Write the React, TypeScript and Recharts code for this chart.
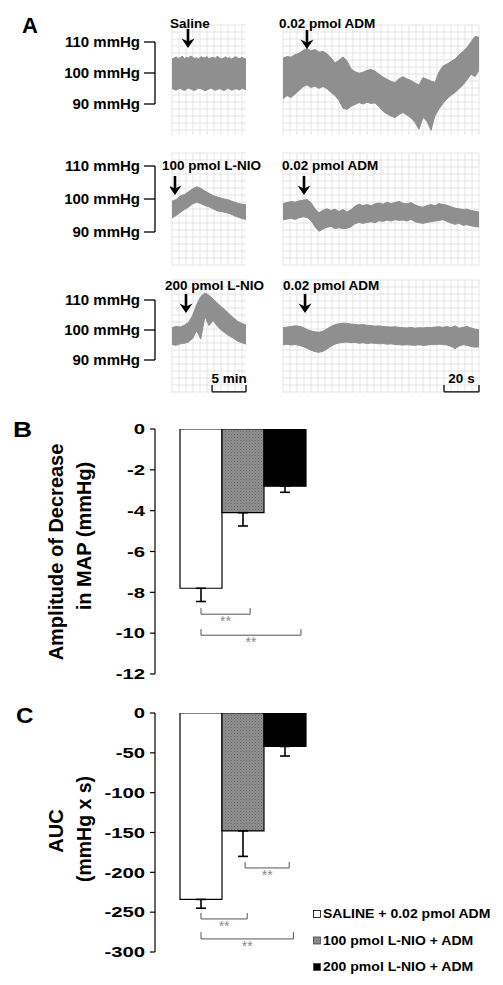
import React from 'react';
import {
  ComposedChart,
  LineChart,
  BarChart,
  Area,
  Bar,
  Line,
  XAxis,
  YAxis,
  CartesianGrid,
  ReferenceLine,
  ReferenceDot,
  ErrorBar,
  Legend,
} from 'recharts';

const FONT = '"Liberation Sans", Arial, Helvetica, sans-serif';

// ================= Panel A: pressure traces (mmHg) =================
const LEFT_DURATION_MIN = 10.9;
const RIGHT_DURATION_S = 112;
const MMHG_TICKS = [90, 100, 110];

const SALINE_HI = [104.6, 104.9, 105.3, 104.8, 105.0, 105.5, 104.7, 105.1, 104.9, 105.6, 105.2, 104.8, 105.0, 104.6, 105.3, 105.1, 104.9, 105.4, 104.7, 105.0, 105.2, 104.8, 105.5, 105.0, 104.7, 104.9, 105.3, 104.8, 105.1, 104.6, 105.0, 105.4, 104.9, 104.7, 105.2, 104.8, 104.6];
const SALINE_LO = [95.2, 95.0, 94.7, 95.1, 95.3, 94.9, 94.6, 95.0, 95.4, 95.1, 94.8, 94.6, 95.0, 95.3, 95.2, 94.9, 94.5, 94.8, 95.1, 95.4, 95.0, 94.7, 94.9, 95.2, 95.0, 94.6, 94.8, 95.3, 95.1, 94.7, 94.9, 95.2, 95.0, 94.8, 95.3, 95.1, 94.9];

const ADM1_HI = [104.9, 105.4, 105.2, 106.0, 106.4, 107.3, 107.9, 107.2, 107.6, 106.8, 107.0, 106.3, 105.0, 103.4, 104.2, 105.3, 104.0, 101.5, 100.6, 100.1, 100.4, 101.0, 101.3, 100.8, 99.8, 98.9, 98.2, 97.5, 97.1, 98.4, 99.0, 98.3, 97.8, 97.0, 96.4, 98.7, 98.2, 97.6, 97.2, 100.5, 102.4, 103.0, 103.8, 104.6, 105.9, 107.0, 108.3, 110.0, 111.8, 111.5];
const ADM1_LO = [92.0, 93.0, 92.4, 93.5, 94.6, 95.8, 96.4, 95.6, 96.0, 95.3, 95.9, 95.2, 94.0, 93.0, 91.5, 89.0, 88.6, 89.6, 90.2, 90.8, 90.3, 90.9, 90.5, 90.7, 89.5, 88.0, 87.2, 86.5, 86.0, 87.0, 87.6, 86.8, 85.9, 84.5, 82.3, 86.1, 84.8, 82.0, 86.6, 88.8, 90.5, 92.0, 93.1, 94.0, 95.2, 96.4, 98.0, 99.8, 99.0, 101.0];

const LNIO100_HI = [99.3, 99.8, 100.9, 101.3, 102.2, 103.0, 103.7, 103.2, 102.4, 101.7, 101.0, 100.6, 100.2, 99.9, 99.6, 99.1, 98.7, 98.4, 98.2];
const LNIO100_LO = [94.3, 95.0, 95.9, 96.8, 97.5, 98.5, 99.0, 98.6, 98.0, 97.6, 97.0, 96.4, 96.2, 95.9, 95.6, 95.0, 94.5, 94.1, 93.8];

const ADM2_HI = [98.6, 98.9, 99.2, 99.0, 99.4, 99.6, 99.8, 98.9, 97.0, 95.8, 96.6, 97.0, 96.5, 96.9, 96.2, 96.8, 96.0, 96.7, 97.8, 98.4, 98.0, 98.3, 97.9, 98.5, 98.8, 98.4, 99.0, 98.6, 98.9, 99.3, 98.7, 98.5, 98.9, 98.2, 97.7, 97.5, 98.0, 98.3, 97.9, 98.6, 98.3, 98.1, 97.6, 97.2, 97.0, 96.8, 96.9, 96.5, 96.3, 96.0];
const ADM2_LO = [93.7, 93.9, 94.1, 93.8, 94.3, 94.6, 94.4, 93.5, 91.6, 90.2, 90.9, 91.4, 91.7, 91.0, 91.3, 91.0, 91.1, 91.6, 92.5, 92.9, 92.6, 92.9, 93.1, 92.8, 93.4, 93.2, 93.6, 93.3, 93.7, 93.5, 93.6, 93.3, 93.8, 93.1, 92.8, 92.6, 92.9, 93.1, 93.3, 93.5, 93.7, 93.2, 92.7, 92.3, 92.6, 92.0, 92.2, 91.9, 91.6, 91.5];

const LNIO200_HI = [100.8, 101.2, 101.0, 101.6, 102.5, 104.8, 108.5, 111.2, 112.4, 111.6, 110.3, 109.0, 107.8, 106.6, 105.3, 104.0, 102.9, 102.2, 101.7];
const LNIO200_LO = [95.2, 94.9, 95.4, 95.6, 96.0, 97.2, 99.8, 97.0, 104.5, 101.5, 103.2, 101.3, 100.0, 98.9, 98.0, 97.2, 96.3, 95.8, 95.3];

const ADM3_HI = [100.8, 101.0, 101.2, 101.4, 101.3, 100.9, 100.2, 99.7, 99.4, 99.3, 99.6, 100.4, 101.2, 101.8, 102.1, 102.3, 102.2, 102.0, 101.9, 101.7, 101.8, 101.6, 101.5, 101.3, 101.4, 101.2, 101.1, 101.0, 101.1, 100.9, 100.8, 100.7, 100.9, 100.6, 100.8, 100.7, 100.9, 100.8, 101.0, 101.1, 100.9, 101.2, 100.8, 101.4, 100.6, 100.9, 101.2, 100.7, 100.3, 100.1];
const ADM3_LO = [95.1, 95.3, 95.0, 95.2, 94.9, 94.5, 93.9, 93.3, 92.8, 92.6, 92.9, 93.7, 94.6, 95.3, 95.7, 95.9, 96.0, 95.8, 95.9, 95.6, 95.8, 95.5, 95.7, 95.6, 95.4, 95.5, 95.3, 95.4, 95.2, 95.1, 95.0, 95.1, 95.0, 94.9, 95.1, 94.9, 95.0, 95.2, 95.1, 95.3, 95.2, 95.0, 94.6, 93.8, 94.7, 95.1, 94.9, 94.5, 94.3, 94.4];

const LEFT_HI = [SALINE_HI, LNIO100_HI, LNIO200_HI];
const LEFT_LO = [SALINE_LO, LNIO100_LO, LNIO200_LO];
const RIGHT_HI = [ADM1_HI, ADM2_HI, ADM3_HI];
const RIGHT_LO = [ADM1_LO, ADM2_LO, ADM3_LO];

const ROW_Y_DOMAINS: [number, number][] = [[80.5, 115.4], [80.0, 113.9], [79.0, 116.7]];
const LEFT_LABELS = ['Saline', '100 pmol L-NIO', '200 pmol L-NIO'];
const RIGHT_LABELS = ['0.02 pmol ADM', '0.02 pmol ADM', '0.02 pmol ADM'];
const LEFT_ARROW_T = [2.36, 0.44, 2.06];
const LEFT_ARROW_Y = [108.1, 101.2, 105.7];
const RIGHT_ARROW_T = [13.7, 12.0, 12.6];
const RIGHT_ARROW_Y = [107.8, 101.2, 105.7];

// scale bars (drawn on the bottom row)
const LEFT_SCALE = { label: '5 min', from: 5.9, to: 10.9, y: 79.4, tick: 81.7 };
const RIGHT_SCALE = { label: '20 s', from: 92, to: 112, y: 79.4, tick: 81.7 };

// ---- layout (page pixels) ----
const ROW_GRID_TOP = [25, 153, 280];
const ROW_GRID_H = [110, 112, 113];
const ROW_BRACKET = [[42, 104], [166, 232], [300, 360]];
const LEFT_LABEL_X = [170, 162, 165];
const RIGHT_LABEL_X = [279, 282, 283];
const LABEL_BASE = [28, 170, 290];

// ================= Panels B & C: bars =================
const GROUPS = ['SALINE + 0.02 pmol ADM', '100 pmol L-NIO + ADM', '200 pmol L-NIO + ADM'];
const B_MEANS = [-7.8, -4.1, -2.8];
const B_SEMS = [0.65, 0.65, 0.3];
const C_MEANS = [-234, -148, -42];
const C_SEMS = [11, 32, 12];
const B_TICKS = [0, -2, -4, -6, -8, -10, -12];
const C_TICKS = [0, -50, -100, -150, -200, -250, -300];

// significance brackets (x in bar-position units: bar centres at 1, 2, 3)
const B_SIG_X0 = [1.0, 1.0];
const B_SIG_X1 = [2.17, 3.38];
const B_SIG_Y = [-9.07, -10.1];
const B_SIG_TICK = [-8.77, -9.8];
const C_SIG_X0 = [2.05, 1.0, 1.0];
const C_SIG_X1 = [3.1, 2.1, 3.2];
const C_SIG_Y = [-194.5, -258.5, -283.6];
const C_SIG_TICK = [-187, -251, -275];
const SIG_DOMAIN: [number, number] = [-0.0952, 4.0952];

const TRACE_COLOR = '#8f8f8f';
const GRID_COLOR = '#e2e2e2';

const gridV = (p: any) => {
  const o = p.offset;
  const out: number[] = [];
  for (let v = o.left; v <= o.left + o.width + 0.5; v += 7) out.push(v);
  return out;
};
const gridH = (p: any) => {
  const o = p.offset;
  const out: number[] = [];
  for (let v = o.top; v <= o.top + o.height + 0.5; v += 7) out.push(v);
  return out;
};

const ArrowShape = (p: any) => {
  const { cx, cy } = p;
  if (cx == null || cy == null) return null;
  return (
    <g>
      <line x1={cx} y1={cy - 19} x2={cx} y2={cy - 6} stroke="#000" strokeWidth={2.6} />
      <polygon points={`${cx - 6.5},${cy - 9.5} ${cx},${cy - 6.5} ${cx + 6.5},${cy - 9.5} ${cx},${cy}`} fill="#000" />
    </g>
  );
};

function TraceChart(props: any) {
  const { hi, lo, dur, yDomain, left, top, plotW, plotH, arrowT, arrowY, scale } = props;
  const data = hi.map((v: number, i: number) => ({ t: (i * dur) / (hi.length - 1), range: [lo[i], v] }));
  const sl = { stroke: '#000', strokeWidth: 1.3, ifOverflow: 'visible' as const, xAxisId: 0, yAxisId: 0 };
  return (
    <div style={{ position: 'absolute', left: left - 2, top: top - 1 }}>
      <ComposedChart width={plotW + 4} height={plotH + 2} data={data} margin={{ top: 1, right: 2, bottom: 1, left: 2 }}>
        <CartesianGrid stroke={GRID_COLOR} strokeWidth={0.9} verticalCoordinatesGenerator={gridV} horizontalCoordinatesGenerator={gridH} />
        <XAxis dataKey="t" type="number" domain={[0, dur]} hide allowDataOverflow />
        <YAxis type="number" domain={yDomain} hide allowDataOverflow />
        <Area
          dataKey="range"
          type="linear"
          stroke={TRACE_COLOR}
          strokeWidth={1}
          fill={TRACE_COLOR}
          fillOpacity={1}
          dot={false}
          activeDot={false}
          isAnimationActive={false}
        />
        <ReferenceDot x={arrowT} y={arrowY} r={1} ifOverflow="visible" shape={ArrowShape} />
        {scale ? (
          <ReferenceLine
            {...sl}
            segment={[{ x: scale.from, y: scale.y }, { x: scale.to, y: scale.y }]}
            label={{ value: scale.label, position: 'top', offset: 9, fill: '#000', fontSize: 13.5, fontWeight: 'bold', fontFamily: FONT }}
          />
        ) : null}
        {scale ? <ReferenceLine {...sl} segment={[{ x: scale.from, y: scale.y }, { x: scale.from, y: scale.tick }]} /> : null}
        {scale ? <ReferenceLine {...sl} segment={[{ x: scale.to, y: scale.y }, { x: scale.to, y: scale.tick }]} /> : null}
      </ComposedChart>
    </div>
  );
}

function MmHgAxis(props: any) {
  const { yTop, yBottom } = props;
  const data = [{ t: 0, v: 90 }, { t: 1, v: 110 }];
  return (
    <div style={{ position: 'absolute', left: 30, top: yTop - 10 }}>
      <LineChart width={131} height={yBottom - yTop + 20} data={data} margin={{ top: 10, right: 6, bottom: 10, left: 0 }}>
        <XAxis dataKey="t" type="number" domain={[0, 1]} hide />
        <YAxis
          type="number"
          domain={[90, 110]}
          allowDataOverflow
          ticks={MMHG_TICKS}
          interval={0}
          width={125}
          tickSize={11}
          tickMargin={4}
          axisLine={{ stroke: '#000', strokeWidth: 1.3 }}
          tickLine={{ stroke: '#000', strokeWidth: 1.3 }}
          tick={{ fill: '#000', fontSize: 15, fontWeight: 'bold', fontFamily: FONT }}
          tickFormatter={(v: number) => `${v} mmHg`}
        />
        <Line dataKey="v" stroke="none" strokeOpacity={0} dot={false} activeDot={false} isAnimationActive={false} />
      </LineChart>
    </div>
  );
}

const StretchTick = (p: any) => {
  const { x, y, payload } = p;
  return (
    <g transform={`translate(${x},${y})`}>
      <text transform="scale(1.4,1)" textAnchor="end" dy="0.36em" fontSize={14.5} fontWeight="bold" fontFamily={FONT} fill="#000">
        {payload.value}
      </text>
    </g>
  );
};

function buildBarData(means: number[], sems: number[]) {
  const row: any = { name: 'group' };
  means.forEach((m, i) => {
    row['g' + i] = m;
    row['e' + i] = [sems[i], 0];
  });
  return [row];
}

function HatchDefs({ id }: { id: string }) {
  return (
    <defs>
      <pattern id={id} width="3" height="3" patternUnits="userSpaceOnUse">
        <rect width="3" height="3" fill="#909090" />
        <rect width="1" height="1" fill="#666666" />
        <rect x="1.5" y="1.5" width="1" height="1" fill="#727272" />
      </pattern>
    </defs>
  );
}

function LegendContent(p: any) {
  const fills = ['#ffffff', 'url(#hatchC)', '#000000'];
  return (
    <svg width={190} height={66} style={{ display: 'block', overflow: 'visible' }}>
      {GROUPS.map((g, i) => (
        <g key={g} transform={`translate(0.5, ${i * 26.5 + 0.5})`}>
          <rect width={7} height={7} fill={fills[i]} stroke={i === 0 ? '#000' : '#444'} strokeWidth={0.8} />
          <text transform="translate(9.5,7.6) scale(1.17,1)" fontSize={12} fontWeight="bold" fontFamily={FONT} fill="#000">
            {g}
          </text>
        </g>
      ))}
    </svg>
  );
}

function BarPanel(props: any) {
  const { top, height, width, marginRight, means, sems, ticks, domain, sigX0, sigX1, sigY, sigTick, hatchId, legend } = props;
  const data = buildBarData(means, sems);
  const fills = ['#ffffff', `url(#${hatchId})`, '#000000'];
  const sigData = sigX0.map((x0: number, i: number) => ({ x: x0, y: sigY[i] }));
  const sigLines: any[] = [];
  sigX0.forEach((x0: number, i: number) => {
    const common = { stroke: '#555', strokeWidth: 1, ifOverflow: 'visible' as const };
    sigLines.push(
      <ReferenceLine
        key={'h' + i}
        {...common}
        segment={[{ x: x0, y: sigY[i] }, { x: sigX1[i], y: sigY[i] }]}
        label={{ value: '**', position: 'bottom', offset: 2, fill: '#8a8a8a', fontSize: 14, fontFamily: FONT }}
      />
    );
    sigLines.push(<ReferenceLine key={'a' + i} {...common} segment={[{ x: x0, y: sigY[i] }, { x: x0, y: sigTick[i] }]} />);
    sigLines.push(<ReferenceLine key={'b' + i} {...common} segment={[{ x: sigX1[i], y: sigY[i] }, { x: sigX1[i], y: sigTick[i] }]} />);
  });
  const margin = { top: 10, right: marginRight, bottom: 10, left: 0 };
  return (
    <>
      <div style={{ position: 'absolute', left: 60, top }}>
        <BarChart width={width} height={height} data={data} barGap={0} margin={margin}>
          <HatchDefs id={hatchId} />
          <XAxis dataKey="name" hide />
          <YAxis
            type="number"
            domain={domain}
            ticks={ticks}
            interval={0}
            width={95}
            tickSize={5}
            tickMargin={5}
            allowDataOverflow
            axisLine={{ stroke: '#000', strokeWidth: 1.2 }}
            tickLine={{ stroke: '#000', strokeWidth: 1.2 }}
            tick={<StretchTick />}
          />
          {GROUPS.map((g, i) => (
            <Bar key={g} dataKey={'g' + i} name={g} fill={fills[i]} stroke="#000" strokeWidth={1.2} barSize={42} isAnimationActive={false}>
              <ErrorBar dataKey={'e' + i} width={5} stroke="#000" strokeWidth={1.6} direction="y" />
            </Bar>
          ))}
          {legend ? (
            <Legend
              layout="vertical"
              align="center"
              verticalAlign="middle"
              content={<LegendContent />}
              wrapperStyle={{ position: 'absolute', left: 253, top: 207, width: 190, height: 66 }}
            />
          ) : null}
        </BarChart>
      </div>
      <div style={{ position: 'absolute', left: 60, top, pointerEvents: 'none' }}>
        <ComposedChart width={width} height={height} data={sigData} margin={{ ...margin, left: 95 }}>
          <XAxis dataKey="x" type="number" domain={SIG_DOMAIN} hide allowDataOverflow />
          <YAxis type="number" domain={domain} hide allowDataOverflow />
          <Line dataKey="y" stroke="none" strokeOpacity={0} dot={false} activeDot={false} isAnimationActive={false} />
          {sigLines}
        </ComposedChart>
      </div>
    </>
  );
}

export default function App() {
  const txt = { fontFamily: FONT, fontWeight: 'bold' as const, fill: '#000' };
  return (
    <div style={{ position: 'absolute', left: 0, top: 0, width: 503, height: 985, background: '#fff' }}>
      {[0, 1, 2].map((r) => (
        <React.Fragment key={r}>
          <MmHgAxis yTop={ROW_BRACKET[r][0]} yBottom={ROW_BRACKET[r][1]} />
          <TraceChart
            hi={LEFT_HI[r]}
            lo={LEFT_LO[r]}
            dur={LEFT_DURATION_MIN}
            yDomain={ROW_Y_DOMAINS[r]}
            left={172}
            top={ROW_GRID_TOP[r]}
            plotW={74}
            plotH={ROW_GRID_H[r]}
            arrowT={LEFT_ARROW_T[r]}
            arrowY={LEFT_ARROW_Y[r]}
            scale={r === 2 ? LEFT_SCALE : null}
          />
          <TraceChart
            hi={RIGHT_HI[r]}
            lo={RIGHT_LO[r]}
            dur={RIGHT_DURATION_S}
            yDomain={ROW_Y_DOMAINS[r]}
            left={283}
            top={ROW_GRID_TOP[r]}
            plotW={196}
            plotH={ROW_GRID_H[r]}
            arrowT={RIGHT_ARROW_T[r]}
            arrowY={RIGHT_ARROW_Y[r]}
            scale={r === 2 ? RIGHT_SCALE : null}
          />
        </React.Fragment>
      ))}

      <BarPanel
        top={419}
        height={265}
        width={271}
        marginRight={0}
        means={B_MEANS}
        sems={B_SEMS}
        ticks={B_TICKS}
        domain={[-12, 0]}
        sigX0={B_SIG_X0}
        sigX1={B_SIG_X1}
        sigY={B_SIG_Y}
        sigTick={B_SIG_TICK}
        hatchId="hatchB"
        legend={false}
      />
      <BarPanel
        top={703}
        height={259}
        width={440}
        marginRight={169}
        means={C_MEANS}
        sems={C_SEMS}
        ticks={C_TICKS}
        domain={[-300, 0]}
        sigX0={C_SIG_X0}
        sigX1={C_SIG_X1}
        sigY={C_SIG_Y}
        sigTick={C_SIG_TICK}
        hatchId="hatchC"
        legend={true}
      />

      <svg width={503} height={985} style={{ position: 'absolute', left: 0, top: 0, pointerEvents: 'none' }}>
        <text x={22} y={33} fontSize={22} {...txt}>A</text>
        <text x={13} y={437} fontSize={22} {...txt} transform="translate(13,437) scale(1.2,1) translate(-13,-437)">B</text>
        <text x={16} y={723} fontSize={22} {...txt} transform="translate(16,723) scale(1.1,1) translate(-16,-723)">C</text>
        {[0, 1, 2].map((r) => (
          <React.Fragment key={r}>
            <text x={LEFT_LABEL_X[r]} y={LABEL_BASE[r]} fontSize={13.5} {...txt}>{LEFT_LABELS[r]}</text>
            <text x={RIGHT_LABEL_X[r]} y={LABEL_BASE[r]} fontSize={13.5} {...txt}>{RIGHT_LABELS[r]}</text>
          </React.Fragment>
        ))}
        <text transform="translate(56,552) rotate(-90)" textAnchor="middle" dominantBaseline="central" fontSize={20} {...txt}>Amplitude of Decrease</text>
        <text transform="translate(84,536) rotate(-90)" textAnchor="middle" dominantBaseline="central" fontSize={20} {...txt}>in MAP (mmHg)</text>
        <text transform="translate(56,831) rotate(-90)" textAnchor="middle" dominantBaseline="central" fontSize={20} {...txt}>AUC</text>
        <text transform="translate(84,829) rotate(-90)" textAnchor="middle" dominantBaseline="central" fontSize={19.5} {...txt}>(mmHg x s)</text>
      </svg>
    </div>
  );
}
